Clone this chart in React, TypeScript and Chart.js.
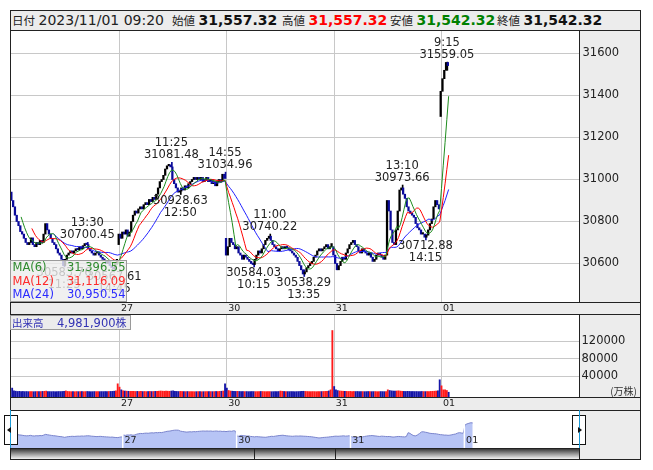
import React, { useEffect, useRef } from "react";
import { Chart, registerables } from "chart.js";

Chart.register(...registerables);

const FONT = '"DejaVu Sans", Verdana, sans-serif';
const CJK = '"Noto Sans CJK JP", "DejaVu Sans", sans-serif';
const GRID = "#c8c8c8";
const BORDER = "#222";
const PANEL = "#ececec";

// ---- data: 5-minute bars, 60 per session day ----
const SESSION_START = [0, 60, 120, 180, 240];
const SESSION_OPEN = [30940, 30690, 30720, 30680, 31300];
const DAY_LABELS = ["27", "30", "31", "01"];
const DAY_BOUNDARY = [60, 120, 180, 240];

const CLOSE_26 = [
  30900, 30870, 30830, 30800, 30780, 30752, 30740, 30720, 30700, 30690,
  30700, 30722, 30690, 30680, 30700, 30690, 30710, 30700, 30740, 30790,
  30760, 30740, 30720, 30700, 30690, 30670, 30650, 30640, 30620, 30590,
  30620, 30640, 30650, 30660, 30650, 30660, 30670, 30665, 30680, 30670,
  30685, 30695, 30690, 30670, 30660, 30650, 30640, 30650, 30655, 30640,
  30630, 30620, 30615, 30600, 30610, 30590, 30580, 30575, 30600, 30620,
];
const CLOSE_27 = [
  30740, 30720, 30750, 30740, 30760, 30730, 30750, 30800, 30830, 30850,
  30840, 30860, 30870, 30860, 30880, 30890, 30880, 30905, 30895, 30915,
  30905, 30930, 30960, 30990, 31000, 31020, 31050, 31065, 31070, 31060,
  31000, 30980, 30960, 30940, 30945, 30960, 30950, 30970, 30960, 30980,
  30990, 31000, 31010, 31000, 31010, 31000, 31010, 30990, 31000, 31010,
  30990, 31000, 30980, 30990, 30970, 30990, 31000, 30990, 31025, 31005,
];
const CLOSE_30 = [
  30640, 30680, 30720, 30700, 30690, 30670, 30680, 30650, 30640, 30620,
  30640, 30630, 30620, 30610, 30600, 30595, 30620, 30640, 30660, 30650,
  30670, 30690, 30710, 30720, 30730, 30710, 30690, 30680, 30670, 30660,
  30670, 30680, 30670, 30680, 30675, 30665, 30660, 30650, 30640, 30630,
  30610, 30590, 30570, 30550, 30560, 30580, 30590, 30600, 30610, 30630,
  30640, 30660, 30670, 30660, 30670, 30680, 30690, 30670, 30680, 30695,
];
const CLOSE_31 = [
  30640, 30600, 30570, 30590, 30610, 30630, 30620, 30650, 30670, 30690,
  30700, 30710, 30690, 30680, 30660, 30650, 30670, 30660, 30650, 30640,
  30650, 30630, 30610, 30620, 30640, 30650, 30640, 30630, 30620, 30640,
  30900, 30850, 30760, 30700, 30690, 30760, 30850, 30950, 30960, 30930,
  30910, 30870, 30850, 30840, 30830, 30820, 30790, 30770, 30760, 30740,
  30740, 30725, 30735, 30760, 30790, 30812, 30870, 30900, 30880, 30860,
];
const CLOSE_01 = [31420, 31480, 31520, 31557.32, 31542.32];

const VOL_26 = [
  13500, 7200, 6400, 5800, 6100, 5600, 5900, 5500, 5700, 5400,
  5800, 5600, 5300, 5500, 5700, 5400, 5600, 5900, 6200, 6600,
  5800, 5500, 5400, 5600, 5300, 5500, 5700, 5600, 5800, 6300,
  7000, 5900, 5600, 5400, 5500, 5300, 5600, 5400, 5500, 5700,
  5400, 5600, 5800, 5500, 5300, 5400, 5600, 5500, 5300, 5400,
  5600, 5500, 5700, 5600, 5800, 5900, 6000, 6400, 7200, 23300,
];
const VOL_27 = [
  15700, 9500, 7400, 6800, 6500, 6200, 6000, 6300, 6100, 5800,
  6000, 5700, 5900, 5600, 5800, 5500, 5700, 5900, 5600, 5800,
  6000, 6200, 6400, 6800, 6500, 6300, 6600, 6400, 6200, 6800,
  7200, 6200, 5900, 5700, 6000, 5800, 5600, 5500, 5700, 5400,
  5600, 5500, 5300, 5400, 5600, 5500, 5300, 5400, 5500, 5600,
  5300, 5500, 5400, 5600, 5800, 5700, 6000, 6300, 6800, 23300,
];
const VOL_30 = [
  13500, 8000, 6800, 6400, 6000, 5900, 6100, 5800, 5600, 5700,
  5500, 5600, 5400, 5500, 5700, 5600, 5400, 5500, 5600, 5800,
  5700, 5500, 5400, 5600, 5500, 5300, 5400, 5600, 5500, 5700,
  6700, 6200, 5800, 5600, 5500, 5400, 5600, 5500, 5300, 5500,
  5600, 5800, 6000, 6200, 5900, 5700, 5500, 5400, 5600, 5500,
  5300, 5400, 5500, 5600, 5800, 6000, 6300, 7000, 9500, 145100,
];
const VOL_31 = [
  17100, 9500, 7800, 7000, 6600, 6300, 6100, 6000, 5800, 6000,
  5700, 5900, 5600, 5800, 5500, 5700, 5600, 5400, 5500, 5700,
  5600, 5400, 5500, 5600, 5300, 5400, 5600, 5500, 5400, 5700,
  9500, 8000, 7200, 6800, 6500, 6900, 7300, 6600, 6200, 6000,
  5800, 6100, 5900, 5700, 5800, 5600, 5700, 5500, 5600, 5800,
  5600, 5500, 5700, 5800, 6000, 6200, 6400, 6800, 7400, 32500,
];
const VOL_01 = [18700, 9500, 9500, 8000, 4000];

const PRICE_TICKS = [30600, 30800, 31000, 31200, 31400, 31600];
const VOL_TICKS = [40000, 80000, 120000];

const MA_PERIODS = [6, 12, 24];
const MA_COLORS = ["#1e8c1e", "#ff0000", "#2020ff"];
const MA_TEXT_COLORS = ["#2d8a2d", "#ff2a2a", "#2a2aff"];
const MA_LAST = ["31,396.55", "31,116.09", "30,950.54"];

const ANNOTATIONS = [
  { i: 29, p: 30583.76, t: "11:25", k: "low" },
  { i: 42, p: 30700.45, t: "13:30", k: "high" },
  { i: 57, p: 30567.61, t: "14:45", k: "low" },
  { i: 89, p: 31081.48, t: "11:25", k: "high" },
  { i: 94, p: 30928.63, t: "12:50", k: "low" },
  { i: 119, p: 31034.96, t: "14:55", k: "high" },
  { i: 135, p: 30584.03, t: "10:15", k: "low" },
  { i: 144, p: 30740.22, t: "11:00", k: "high" },
  { i: 163, p: 30538.29, t: "13:35", k: "low" },
  { i: 218, p: 30973.66, t: "13:10", k: "high" },
  { i: 231, p: 30712.88, t: "14:15", k: "low" },
  { i: 243, p: 31559.05, t: "9:15", k: "high" },
];

const HEADER = [
  { text: "日付", kind: "label" },
  { text: "2023/11/01 09:20", kind: "date" },
  { text: "始値", kind: "label" },
  { text: "31,557.32", kind: "value", color: "#111" },
  { text: "高値", kind: "label" },
  { text: "31,557.32", kind: "value", color: "#ff0000" },
  { text: "安値", kind: "label" },
  { text: "31,542.32", kind: "value", color: "#008000" },
  { text: "終値", kind: "label" },
  { text: "31,542.32", kind: "value", color: "#111" },
];
const HEADER_X = [12, 38.5, 172, 198.5, 282, 308.5, 390, 416.5, 497, 523.5];

// ---- derived series ----
const CLOSES = [...CLOSE_26, ...CLOSE_27, ...CLOSE_30, ...CLOSE_31, ...CLOSE_01];
const VOLUMES = [...VOL_26, ...VOL_27, ...VOL_30, ...VOL_31, ...VOL_01];
const OPENS = CLOSES.map((c, i) => {
  const s = SESSION_START.indexOf(i);
  return s >= 0 ? SESSION_OPEN[s] : CLOSES[i - 1];
});

function movingAverage(n: number) {
  const out: { x: number; y: number }[] = [];
  let sum = 0;
  for (let i = 0; i < CLOSES.length; i++) {
    sum += CLOSES[i];
    if (i >= n) sum -= CLOSES[i - n];
    if (i >= n - 1) out.push({ x: i, y: sum / n });
  }
  return out;
}

// scale windows (chosen so panels line up with the frame)
const X_MIN = -0.65;
const X_MAX = 316.87;
const Y_MIN = 30416.7;
const Y_MAX = 31707.1;
const VOL_MIN = -6857;
const VOL_MAX = 180571;
const NX_MIN = 0.73;
const NX_MAX = 300;
const NY_MIN = 29886;
const NY_MAX = 32333;

const UP = "#000000";
const DOWN = "#0a0a9a";
const VOL_UP = "#ff1a1a";
const VOL_DOWN = "#1616a8";

function xScale(extra: any = {}) {
  return {
    type: "linear",
    min: X_MIN,
    max: X_MAX,
    offset: false,
    afterBuildTicks: (s: any) => {
      s.ticks = DAY_BOUNDARY.map((v) => ({ value: v }));
    },
    afterFit: (s: any) => {
      s.height = 0;
    },
    ticks: { display: false },
    grid: { color: GRID, drawTicks: false, offset: false, lineWidth: 1 },
    border: { display: false },
    ...extra,
  };
}

export default function App() {
  const mainRef = useRef<HTMLCanvasElement>(null);
  const volRef = useRef<HTMLCanvasElement>(null);
  const navRef = useRef<HTMLCanvasElement>(null);

  useEffect(() => {
    const charts: Chart[] = [];
    const candleColors = CLOSES.map((c, i) => (c >= OPENS[i] ? UP : DOWN));
    const volColors = CLOSES.map((c, i) => (c >= OPENS[i] ? VOL_UP : VOL_DOWN));

    const wickData = ANNOTATIONS.map((a) => {
      const o = OPENS[a.i];
      const c = CLOSES[a.i];
      return { x: a.i, y: [Math.min(o, c, a.p), Math.max(o, c, a.p)] };
    });
    const wickColors = ANNOTATIONS.map((a) => candleColors[a.i]);

    const annotPlugin = {
      id: "annot",
      afterDatasetsDraw(chart: any) {
        const { ctx } = chart;
        const x = chart.scales.x;
        const y = chart.scales.y;
        ctx.save();
        ctx.font = `11.5px ${FONT}`;
        ctx.fillStyle = "#222";
        ctx.textAlign = "center";
        ctx.textBaseline = "middle";
        for (const a of ANNOTATIONS) {
          const px = x.getPixelForValue(a.i);
          const py = y.getPixelForValue(a.p);
          const p = a.p.toFixed(2);
          if (a.k === "high") {
            ctx.fillText(a.t, px, py - 19.5);
            ctx.fillText(p, px, py - 7.5);
          } else {
            ctx.fillText(p, px, py + 6.5);
            ctx.fillText(a.t, px, py + 18.5);
          }
        }
        ctx.textAlign = "left";
        ctx.font = `9.5px ${FONT}`;
        DAY_BOUNDARY.forEach((s, k) => {
          ctx.fillText(DAY_LABELS[k], x.getPixelForValue(s) + 1.5, 308.5);
        });
        ctx.restore();
      },
    };

    const volPlugin = {
      id: "volDates",
      afterDatasetsDraw(chart: any) {
        const { ctx } = chart;
        const x = chart.scales.x;
        ctx.save();
        ctx.font = `9.5px ${FONT}`;
        ctx.fillStyle = "#222";
        ctx.textAlign = "left";
        ctx.textBaseline = "middle";
        DAY_BOUNDARY.forEach((s, k) => {
          ctx.fillText(DAY_LABELS[k], x.getPixelForValue(s) + 1.5, 403.5);
        });
        ctx.restore();
      },
    };

    const navPlugin = {
      id: "navDates",
      afterDatasetsDraw(chart: any) {
        const { ctx, chartArea } = chart;
        const x = chart.scales.x;
        ctx.save();
        ctx.font = `9.5px ${FONT}`;
        ctx.textAlign = "left";
        ctx.textBaseline = "middle";
        DAY_BOUNDARY.forEach((s, k) => {
          const px = x.getPixelForValue(s);
          ctx.fillStyle = "#ffffff";
          ctx.fillRect(px - 1.5, chartArea.top, 1.5, chartArea.bottom - chartArea.top);
          ctx.fillStyle = "#222";
          ctx.fillText(DAY_LABELS[k], px + 1, 441);
        });
        ctx.restore();
      },
    };

    const common = {
      responsive: false,
      animation: false,
      devicePixelRatio: 1,
      events: [],
      plugins: { legend: { display: false }, tooltip: { enabled: false } },
    };

    if (mainRef.current) {
      charts.push(
        new Chart(mainRef.current, {
          type: "bar",
          data: {
            datasets: [
              ...MA_PERIODS.map((n, k) => ({
                type: "line",
                label: `MA(${n})`,
                data: movingAverage(n),
                borderColor: MA_COLORS[k],
                borderWidth: 1,
                pointRadius: 0,
                tension: 0,
                order: k + 1,
              })),
              {
                type: "bar",
                label: "wicks",
                data: wickData,
                backgroundColor: wickColors,
                barThickness: 1,
                borderWidth: 0,
                order: 5,
              },
              {
                type: "bar",
                label: "price",
                data: CLOSES.map((c, i) => ({ x: i, y: [OPENS[i], c] })),
                backgroundColor: candleColors,
                barThickness: 1.6,
                minBarLength: 1.5,
                borderWidth: 0,
                order: 4,
              },
            ],
          } as any,
          options: {
            ...common,
            layout: { padding: { left: 11, right: 13, top: 31, bottom: 168 } },
            scales: {
              x: xScale(),
              y: {
                type: "linear",
                position: "right",
                min: Y_MIN,
                max: Y_MAX,
                beginAtZero: false,
                afterBuildTicks: (s: any) => {
                  s.ticks = PRICE_TICKS.map((v) => ({ value: v }));
                },
                afterFit: (s: any) => {
                  s.width = 61;
                },
                ticks: {
                  padding: 3.5,
                  color: "#222",
                  font: { family: FONT, size: 11.5 },
                  callback: (v: any) => String(v),
                },
                grid: { color: GRID, drawTicks: false },
                border: { display: false },
              },
            },
          } as any,
          plugins: [annotPlugin],
        })
      );
    }

    if (volRef.current) {
      charts.push(
        new Chart(volRef.current, {
          type: "bar",
          data: {
            datasets: [
              {
                label: "出来高",
                data: VOLUMES.map((v, i) => ({ x: i, y: [VOL_MIN, v] })),
                backgroundColor: volColors,
                barThickness: 1.2,
                borderWidth: 0,
              },
            ],
          } as any,
          options: {
            ...common,
            layout: { padding: { left: 11, right: 13, top: 315, bottom: 73 } },
            scales: {
              x: xScale(),
              y: {
                type: "linear",
                position: "right",
                min: VOL_MIN,
                max: VOL_MAX,
                beginAtZero: false,
                afterBuildTicks: (s: any) => {
                  s.ticks = VOL_TICKS.map((v) => ({ value: v }));
                },
                afterFit: (s: any) => {
                  s.width = 61;
                },
                ticks: {
                  padding: 2.5,
                  color: "#222",
                  font: { family: FONT, size: 11.5 },
                  callback: (v: any) => String(v),
                },
                grid: { color: GRID, drawTicks: false },
                border: { display: false },
              },
            },
          } as any,
          plugins: [volPlugin],
        })
      );
    }

    if (navRef.current) {
      charts.push(
        new Chart(navRef.current, {
          type: "line",
          data: {
            datasets: [
              {
                label: "nav",
                data: CLOSES.map((c, i) => ({ x: i, y: c })),
                borderColor: "#7a84cc",
                backgroundColor: "#b7c4f5",
                borderWidth: 1,
                pointRadius: 0,
                fill: "start",
                tension: 0,
              },
            ],
          } as any,
          options: {
            ...common,
            layout: { padding: { left: 11, right: 74, top: 411, bottom: 22 } },
            scales: {
              x: { type: "linear", min: NX_MIN, max: NX_MAX, display: false },
              y: { type: "linear", min: NY_MIN, max: NY_MAX, display: false },
            },
          } as any,
          plugins: [navPlugin],
        })
      );
    }

    return () => {
      charts.forEach((c) => c.destroy());
    };
  }, []);

  const abs = (l: number, t: number, w: number, h: number, style: any = {}) => ({
    position: "absolute" as const,
    left: l,
    top: t,
    width: w,
    height: h,
    ...style,
  });
  const canvasStyle = abs(0, 0, 653, 470, { pointerEvents: "none" });

  const hLines = [10, 30, 302, 314, 397, 410, 459];
  const vSegments = [
    [10, 10, 450],
    [640, 10, 450],
    [579, 30, 273],
    [579, 314, 84],
    [579, 448, 12],
  ];

  return (
    <div style={abs(0, 0, 653, 470, { background: "#fff", overflow: "hidden" })}>
      {/* panel fills */}
      <div style={abs(10, 10, 631, 21, { background: PANEL })} />
      <div style={abs(579, 30, 62, 273, { background: PANEL })} />
      <div style={abs(10, 302, 631, 13, { background: PANEL })} />
      <div style={abs(579, 314, 62, 84, { background: PANEL })} />
      <div style={abs(10, 397, 631, 14, { background: PANEL })} />
      <div style={abs(579, 410, 62, 50, { background: PANEL })} />
      {/* scrollbar */}
      <div
        style={abs(11, 449, 568, 10, {
          background: "linear-gradient(to bottom, #3a3a3a 0%, #9a9a9a 50%, #f4f4f4 100%)",
        })}
      />
      <div style={abs(254, 449, 1, 10, { background: BORDER })} />
      <div style={abs(335, 449, 1, 10, { background: BORDER })} />
      <div style={abs(10, 448, 570, 1, { background: BORDER })} />
      {/* frame lines */}
      {hLines.map((r) => (
        <div key={"h" + r} style={abs(10, r, 631, 1, { background: BORDER })} />
      ))}
      {vSegments.map(([c, t, h]) => (
        <div key={"v" + c + "-" + t} style={abs(c, t, 1, h, { background: BORDER })} />
      ))}

      {/* header text */}
      {HEADER.map((h, k) => (
        <span
          key={"hd" + k}
          style={{
            position: "absolute",
            left: HEADER_X[k],
            top: 11,
            height: 19,
            lineHeight: "19px",
            whiteSpace: "nowrap",
            color: h.color || "#222",
            fontFamily: h.kind === "label" ? CJK : FONT,
            fontSize: h.kind === "label" ? 11.5 : h.kind === "date" ? 14 : 14,
            fontWeight: h.kind === "value" ? "bold" : "normal",
          }}
        >
          {h.text}
        </span>
      ))}

      <canvas ref={navRef} width={653} height={470} style={canvasStyle} />
      <canvas ref={volRef} width={653} height={470} style={canvasStyle} />
      <canvas ref={mainRef} width={653} height={470} style={canvasStyle} />

      {/* MA legend */}
      <div
        style={abs(10, 260, 117, 42, {
          background: "rgba(236,236,236,0.8)",
          border: "1px solid #9a9a9a",
          boxSizing: "border-box",
        })}
      />
      {MA_PERIODS.map((n, k) => (
        <React.Fragment key={"lg" + n}>
          <span
            style={{
              position: "absolute",
              left: 12.5,
              top: 260 + k * 13.5,
              height: 14,
              lineHeight: "14px",
              fontFamily: FONT,
              fontSize: 11.5,
              color: MA_TEXT_COLORS[k],
              whiteSpace: "nowrap",
            }}
          >
            {`MA(${n})`}
          </span>
          <span
            style={{
              position: "absolute",
              right: 653 - 125.5,
              top: 260 + k * 13.5,
              height: 14,
              lineHeight: "14px",
              fontFamily: FONT,
              fontSize: 11.5,
              color: MA_TEXT_COLORS[k],
              whiteSpace: "nowrap",
            }}
          >
            {MA_LAST[k]}
          </span>
        </React.Fragment>
      ))}

      {/* volume label */}
      <div
        style={abs(10, 315, 121, 15, {
          background: PANEL,
          border: "1px solid #9a9a9a",
          boxSizing: "border-box",
        })}
      />
      <span
        style={{
          position: "absolute",
          left: 12,
          top: 315,
          lineHeight: "15px",
          fontFamily: CJK,
          fontSize: 10.5,
          color: "#3232b4",
          whiteSpace: "nowrap",
        }}
      >
        出来高
      </span>
      <span
        style={{
          position: "absolute",
          left: 57,
          top: 315,
          lineHeight: "15px",
          fontFamily: FONT,
          fontSize: 11.5,
          color: "#3232b4",
          whiteSpace: "nowrap",
        }}
      >
        4,981,900<span style={{ fontFamily: CJK, fontSize: 11 }}>株</span>
      </span>
      <span
        style={{
          position: "absolute",
          right: 653 - 637,
          top: 384,
          lineHeight: "14px",
          fontFamily: CJK,
          fontSize: 10,
          color: "#333",
          whiteSpace: "nowrap",
        }}
      >
        (万株)
      </span>

      {/* navigator handles */}
      <div style={abs(4, 415, 14, 30, { background: "#fff", border: "1px solid #111", boxSizing: "border-box" })} />
      <div style={abs(572, 415, 14, 30, { background: "#fff", border: "1px solid #111", boxSizing: "border-box" })} />
      <div style={abs(10, 410, 1, 38, { background: "#1a9ad6" })} />
      <div style={abs(579, 410, 1, 38, { background: "#1a9ad6" })} />
      <div
        style={abs(7, 427, 0, 0, {
          borderTop: "3px solid transparent",
          borderBottom: "3px solid transparent",
          borderRight: "4px solid #111",
        })}
      />
      <div
        style={abs(578, 427, 0, 0, {
          borderTop: "3px solid transparent",
          borderBottom: "3px solid transparent",
          borderLeft: "4px solid #111",
        })}
      />
    </div>
  );
}
